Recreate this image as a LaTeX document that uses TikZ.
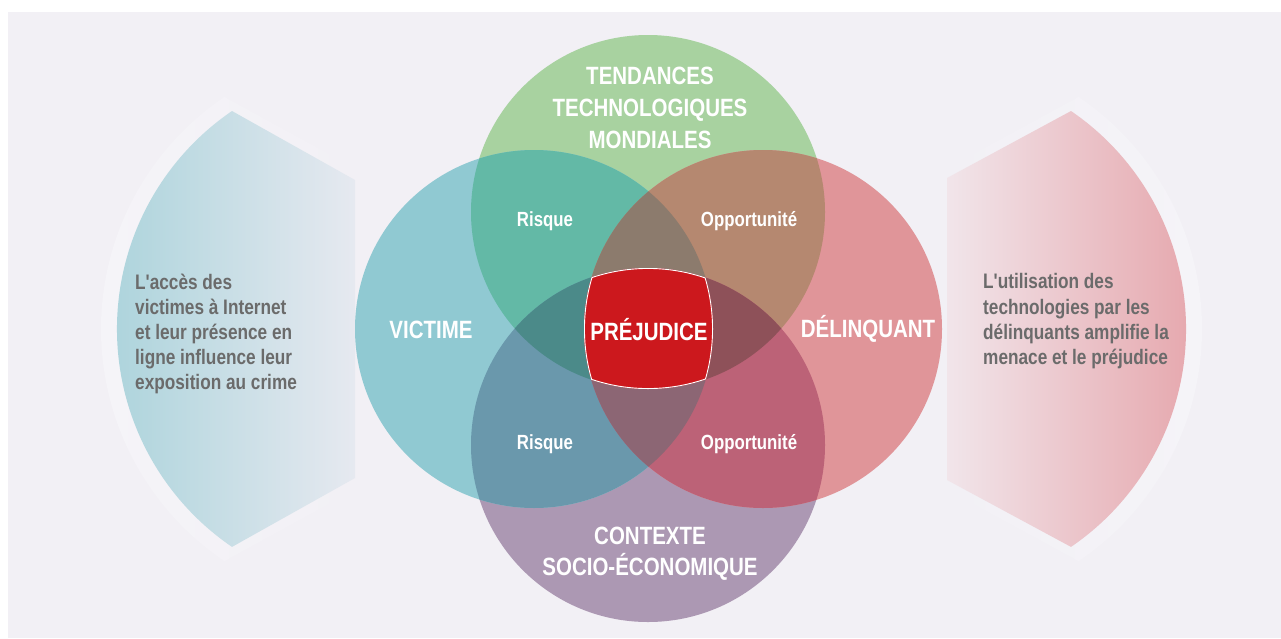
\documentclass[tikz,border=0pt]{standalone}
\usepackage{fontspec}
\setmainfont{Liberation Sans}
\newfontfamily\condensed{Liberation Sans}[FakeStretch=0.82]

\definecolor{panel}{HTML}{F2F0F5}
\definecolor{haloL}{HTML}{F5F4F8}
\definecolor{colG}{HTML}{A8D2A0}
\definecolor{colT}{HTML}{90C9D2}
\definecolor{colP}{HTML}{E09599}
\definecolor{colU}{HTML}{AC98B3}
\definecolor{colGT}{HTML}{63B9A6}
\definecolor{colGP}{HTML}{B58870}
\definecolor{colTU}{HTML}{6A98AC}
\definecolor{colPU}{HTML}{BC6277}
\definecolor{colGTP}{HTML}{8C7B6D}
\definecolor{colGTU}{HTML}{4B8A89}
\definecolor{colGPU}{HTML}{8E5159}
\definecolor{colTPU}{HTML}{8C6674}
\definecolor{harm}{HTML}{CC181D}
\definecolor{sidegray}{HTML}{6B6B6B}
\definecolor{lensTL}{HTML}{ADD4DC}
\definecolor{lensTR}{HTML}{E6E9F0}
\definecolor{lensPL}{HTML}{F1E5EA}
\definecolor{lensPR}{HTML}{E6A8AE}

% the four circles of the Venn diagram
\def\vG{(648,212) circle[radius=177]}
\def\vU{(648,445) circle[radius=177]}
\def\vT{(534,329) circle[radius=179]}
\def\vP{(763,329) circle[radius=179]}

\begin{document}
\begin{tikzpicture}[x=1pt,y=-1pt,
  titlelabel/.style={font=\condensed\bfseries\fontsize{25}{32}\selectfont,text=white,inner sep=0pt,align=center},
  caplabel/.style={font=\condensed\bfseries\fontsize{25}{32}\selectfont,text=white,inner sep=0pt,text height=18.2pt,text depth=0pt},
  zonelabel/.style={font=\condensed\bfseries\fontsize{20.5}{24}\selectfont,text=white,inner sep=0pt,text height=15pt,text depth=0pt},
  sidetext/.style={font=\condensed\bfseries\fontsize{21}{25.2}\selectfont,text=sidegray,inner sep=0pt,align=left,anchor=north west}]

\useasboundingbox (0,0) rectangle (1281,638);
\fill[white] (0,0) rectangle (1281,638);
\fill[panel] (8,12) rectangle (1281,638);

% soft halos behind the side lenses
\shade[left color=haloL,right color=panel]
  (362,172) -- (224.4,96.9) arc[start angle=236,end angle=124,radius=280] -- (362,486) -- cycle;
\shade[left color=panel,right color=haloL]
  (940,172) -- (1078.6,96.9) arc[start angle=-56,end angle=56,radius=280] -- (940,486) -- cycle;

% side lenses
\shade[left color=lensTL,right color=lensTR]
  (355,180) -- (232,111) arc[start angle=235.65,end angle=124.35,radius=264] -- (355,478) -- cycle;
\shade[left color=lensPL,right color=lensPR]
  (947,178) -- (1071,111) arc[start angle=-55.65,end angle=55.65,radius=264] -- (947,480) -- cycle;

% circles
\fill[colG] \vG;
\fill[colU] \vU;
\fill[colT] \vT;
\fill[colP] \vP;

% pairwise overlaps
\begin{scope}\clip \vG; \fill[colGT] \vT; \end{scope}
\begin{scope}\clip \vG; \fill[colGP] \vP; \end{scope}
\begin{scope}\clip \vU; \fill[colTU] \vT; \end{scope}
\begin{scope}\clip \vU; \fill[colPU] \vP; \end{scope}

% triple overlaps
\begin{scope}\clip \vG; \clip \vT; \fill[colGTP] \vP; \end{scope}
\begin{scope}\clip \vG; \clip \vT; \fill[colGTU] \vU; \end{scope}
\begin{scope}\clip \vG; \clip \vP; \fill[colGPU] \vU; \end{scope}
\begin{scope}\clip \vT; \clip \vP; \fill[colTPU] \vU; \end{scope}

% centre: all four circles
\begin{scope}
  \clip \vG; \clip \vU; \clip \vT; \clip \vP;
  \fill[harm] (560,250) rectangle (740,410);
  \draw[white,line width=1.8pt] \vG \vU \vT \vP;
\end{scope}

% labels
\node[titlelabel] (tech) at (650,108) {TENDANCES\\TECHNOLOGIQUES\\MONDIALES};
\node[titlelabel,font=\condensed\bfseries\fontsize{25}{31}\selectfont] (socio) at (650,553.5) {CONTEXTE\\SOCIO-ÉCONOMIQUE};
\node[caplabel] (victime) at (431,329) {VICTIME};
\node[caplabel] (delinquant) at (868,328) {DÉLINQUANT};
\node[caplabel] (prejudice) at (649,331.5) {PRÉJUDICE};

\node[zonelabel] (risqueA) at (545,219) {Risque};
\node[zonelabel] (opportA) at (749,219) {Opportunité};
\node[zonelabel] (risqueB) at (545,442) {Risque};
\node[zonelabel] (opportB) at (749,442) {Opportunité};

\node[sidetext] (victext) at (135,273.5) {L'accès des\\victimes à Internet\\et leur présence en\\ligne influence leur\\exposition au crime};
\node[sidetext] (deltext) at (983,273.5) {L'utilisation des\\technologies par les\\délinquants amplifie la\\menace et le préjudice};
\end{tikzpicture}
\end{document}
